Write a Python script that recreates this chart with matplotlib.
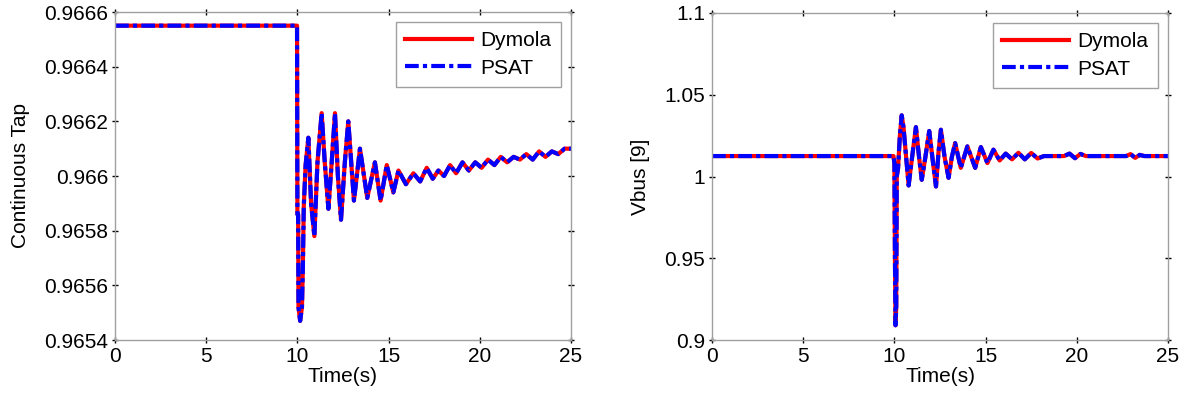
import matplotlib
matplotlib.use('Agg')
import matplotlib.pyplot as plt

plt.rcParams['font.family'] = ['Liberation Sans', 'DejaVu Sans']

# Continuous tap (left panel)
t_tap = [0, 9.98, 10.0, 10.04, 10.06, 10.15, 10.25, 10.3, 10.35, 10.45, 10.6, 10.75,
         10.93, 11.1, 11.33, 11.5, 11.7, 11.88, 12.06, 12.22, 12.39, 12.6, 12.79, 12.95,
         13.1, 13.43, 13.83, 14.25, 14.56, 14.9, 15.26, 15.54, 15.95, 16.36, 16.73, 17.09,
         17.42, 17.73, 18.04, 18.37, 18.7, 19.05, 19.4, 19.75, 20.1, 20.45, 20.8, 21.15,
         21.5, 21.85, 22.2, 22.55, 22.9, 23.25, 23.6, 23.95, 24.3, 24.65, 25]
tap = [0.96655, 0.96655, 0.96586, 0.96586, 0.96552, 0.96547, 0.96552, 0.96567, 0.96589,
       0.96604, 0.96614, 0.96590, 0.96578, 0.96605, 0.96623, 0.96605, 0.96588, 0.96605,
       0.96623, 0.96600, 0.96584, 0.96605, 0.96620, 0.96605, 0.96591, 0.96610, 0.96592,
       0.96605, 0.96591, 0.96604, 0.96594, 0.96602, 0.96597, 0.96601, 0.96598, 0.96603,
       0.96599, 0.96602, 0.96600, 0.96604, 0.96601, 0.96605, 0.96602, 0.96605, 0.96603,
       0.96606, 0.96604, 0.96607, 0.96605, 0.96607, 0.96606, 0.96608, 0.96606, 0.96609,
       0.96607, 0.96609, 0.96608, 0.96610, 0.96610]

# Bus 9 voltage (right panel)
t_v = [0, 9.95, 10.0, 10.03, 10.06, 10.1, 10.13, 10.2, 10.3, 10.4, 10.5, 10.78, 10.95,
       11.18, 11.35, 11.5, 11.7, 11.91, 12.1, 12.28, 12.42, 12.55, 12.75, 12.97, 13.15,
       13.33, 13.64, 14.0, 14.43, 14.74, 15.1, 15.43, 15.77, 16.1, 16.45, 16.8, 17.15,
       17.5, 17.85, 18.2, 19.3, 19.6, 19.9, 20.2, 20.5, 22.7, 22.95, 23.2, 23.45, 23.7, 25]
vbus = [1.0125, 1.0125, 1.008, 0.95, 0.909, 0.92, 1.0, 1.005, 1.025, 1.0374, 1.030,
        0.9945, 1.01, 1.0302, 1.012, 0.998, 1.012, 1.0278, 1.01, 0.9939, 1.015, 1.0286,
        1.012, 0.9992, 1.012, 1.0204, 1.0053, 1.0184, 1.0053, 1.018, 1.0082, 1.0164,
        1.0098, 1.0140, 1.0105, 1.0145, 1.0105, 1.0144, 1.0110, 1.0125, 1.0125, 1.0140,
        1.0112, 1.0138, 1.0125, 1.0125, 1.0137, 1.0114, 1.0132, 1.0125, 1.0125]

xticks = [0, 5, 10, 15, 20, 25]
tap_ticks = [0.9654, 0.9656, 0.9658, 0.966, 0.9662, 0.9664, 0.9666]
tap_labels = ['0.9654', '0.9656', '0.9658', '0.966', '0.9662', '0.9664', '0.9666']
v_ticks = [0.9, 0.95, 1.0, 1.05, 1.1]
v_labels = ['0.9', '0.95', '1', '1.05', '1.1']

fig = plt.figure(figsize=(11.84, 4.03), dpi=100)
ax1 = fig.add_axes([115 / 1184, 1 - 340 / 403, 456 / 1184, 328 / 403])
ax2 = fig.add_axes([712 / 1184, 1 - 340 / 403, 456 / 1184, 327 / 403])

fs = 15


def panel(ax, t, y, yticks, ylabels, ylim, ylabel):
    ax.plot(t, y, color='red', lw=3, label='Dymola')
    ax.plot(t, y, color='blue', lw=3, dashes=(3.3, 1, 1, 1), label='PSAT')
    ax.set_xlim(0, 25)
    ax.set_ylim(*ylim)
    ax.set_xticks(xticks)
    ax.set_yticks(yticks)
    ax.set_yticklabels(ylabels)
    ax.tick_params(direction='inout', length=4, width=1, top=True, right=True,
                   labelsize=fs, colors='black', pad=3)
    for s in ax.spines.values():
        s.set_color('#a0a0a0')
        s.set_linewidth(1)
    ax.set_xlabel('Time(s)', fontsize=fs, labelpad=1)
    ax.set_ylabel(ylabel, fontsize=fs, labelpad=10)
    leg = ax.legend(loc='upper right', bbox_to_anchor=(0.977, 0.97), borderaxespad=0,
                    fontsize=fs, handlelength=3.2, handletextpad=0.4, labelspacing=0.4,
                    fancybox=False, framealpha=1, borderpad=0.45)
    leg.get_frame().set_edgecolor('#a0a0a0')
    leg.get_frame().set_linewidth(1)


panel(ax1, t_tap, tap, tap_ticks, tap_labels, (0.9654, 0.9666), 'Continuous Tap')
panel(ax2, t_v, vbus, v_ticks, v_labels, (0.9, 1.1), 'Vbus [9]')

fig.savefig('out.png', dpi=100)
